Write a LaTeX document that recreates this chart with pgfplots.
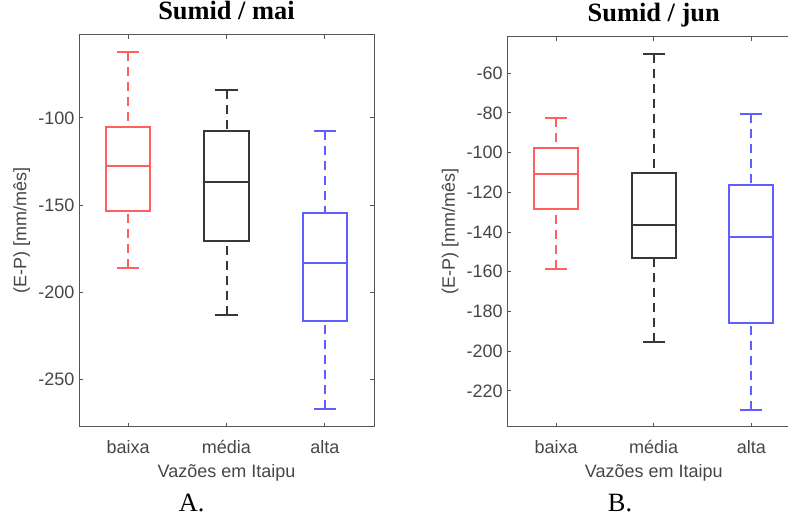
\documentclass[border=0pt]{standalone}
\usepackage{fontspec}
\setmainfont{Liberation Sans}
\newfontfamily\timesf{Liberation Serif}
\usepackage{pgfplots}
\pgfplotsset{compat=1.18}
\usepgfplotslibrary{statistics}
\definecolor{mred}{RGB}{255,95,95}
\definecolor{mblue}{RGB}{95,95,255}
\definecolor{mblack}{RGB}{55,55,55}
\definecolor{axgray}{RGB}{85,85,85}
\definecolor{txtgray}{RGB}{70,70,70}

\pgfplotsset{
  boxplot/draw/lower whisker/.code={%
    \draw[/pgfplots/boxplot/every whisker/.try, dash pattern=on 6.75pt off 4.5pt]
      (boxplot box cs:\pgfplotsboxplotvalue{lower whisker},0.5) --
      (boxplot box cs:\pgfplotsboxplotvalue{lower quartile},0.5);
    \draw[/pgfplots/boxplot/every whisker/.try, solid]
      (boxplot whisker cs:\pgfplotsboxplotvalue{lower whisker},0) --
      (boxplot whisker cs:\pgfplotsboxplotvalue{lower whisker},1);
  },
  boxplot/draw/upper whisker/.code={%
    \draw[/pgfplots/boxplot/every whisker/.try, dash pattern=on 6.75pt off 4.5pt]
      (boxplot box cs:\pgfplotsboxplotvalue{upper whisker},0.5) --
      (boxplot box cs:\pgfplotsboxplotvalue{upper quartile},0.5);
    \draw[/pgfplots/boxplot/every whisker/.try, solid]
      (boxplot whisker cs:\pgfplotsboxplotvalue{upper whisker},0) --
      (boxplot whisker cs:\pgfplotsboxplotvalue{upper whisker},1);
  },
  common/.style={
    scale only axis, anchor=south west,
    xmin=0.5, xmax=3.5, xtick={1,2,3}, xticklabels={baixa,média,alta},
    tick align=inside, major tick length=3pt,
    axis line style={axgray, line width=0.75pt},
    every tick/.style={axgray, line width=0.75pt},
    tick label style={font=\fontsize{13.5}{15}\selectfont, text=txtgray},
    label style={font=\fontsize{13.5}{15}\selectfont, text=txtgray},
    /pgf/number format/assume math mode=true,
    title style={font=\timesf\bfseries\fontsize{19.8}{22}\selectfont, anchor=base, text=black},
    xticklabel style={anchor=base, yshift=-19.7pt},
    yticklabel style={xshift=0pt},
    xlabel={Vazões em Itaipu},
    ylabel={(E-P) [mm/mês]},
    xlabel style={at={(axis description cs:0.5,0)}, anchor=base, yshift=-38pt},
    ylabel style={at={([xshift=-39.4pt]axis description cs:0,0.5)}, anchor=base},
    boxplot/draw direction=y,
    boxplot/box extend=0.45,
    boxplot/whisker extend=0.225,
  },
  bp/.style={line width=1.5pt, solid, mark=none},
}

\begin{document}
\begin{tikzpicture}
\path[use as bounding box] (0,0) rectangle (591pt,387.75pt);
\clip (0,0) rectangle (591pt,387.75pt);

% ---------- A: Sumid / mai ----------
\begin{axis}[common,
  at={(59.25pt,67.7pt)}, width=221.25pt, height=293.8pt,
  ymin=-277.2, ymax=-52.4, ytick={-250,-200,-150,-100},
  title={Sumid / mai}, title style={yshift=5.3pt}]
\addplot[bp, draw=mred, boxplot prepared={draw position=1,
  lower whisker=-185.9, lower quartile=-153.2, median=-127.4,
  upper quartile=-105.0, upper whisker=-62.3}] coordinates {};
\addplot[bp, draw=mblack, boxplot prepared={draw position=2,
  lower whisker=-213.1, lower quartile=-170.8, median=-136.7,
  upper quartile=-107.5, upper whisker=-83.9}] coordinates {};
\addplot[bp, draw=mblue, boxplot prepared={draw position=3,
  lower whisker=-267.2, lower quartile=-216.3, median=-183.4,
  upper quartile=-154.3, upper whisker=-107.3}] coordinates {};
\end{axis}

% ---------- B: Sumid / jun ----------
\begin{axis}[common,
  at={(380.5pt,67.7pt)}, width=219.6pt, height=292.3pt,
  ymin=-238, ymax=-41.8, ytick={-220,-200,-180,-160,-140,-120,-100,-80,-60},
  title={Sumid / jun}, title style={yshift=5.8pt}]
\addplot[bp, draw=mred, boxplot prepared={draw position=1,
  lower whisker=-158.4, lower quartile=-128.4, median=-110.6,
  upper quartile=-97.6, upper whisker=-82.8}] coordinates {};
\addplot[bp, draw=mblack, boxplot prepared={draw position=2,
  lower whisker=-195.2, lower quartile=-153.1, median=-136.3,
  upper quartile=-110.5, upper whisker=-50.4}] coordinates {};
\addplot[bp, draw=mblue, boxplot prepared={draw position=3,
  lower whisker=-229.4, lower quartile=-185.8, median=-142.3,
  upper quartile=-116.4, upper whisker=-80.8}] coordinates {};
\end{axis}

\node[anchor=base, font=\timesf\fontsize{19.8}{22}\selectfont] at (143.8pt,3.8pt) {A.};
\node[anchor=base, font=\timesf\fontsize{19.8}{22}\selectfont] at (465pt,3.9pt) {B.};
\end{tikzpicture}
\end{document}
